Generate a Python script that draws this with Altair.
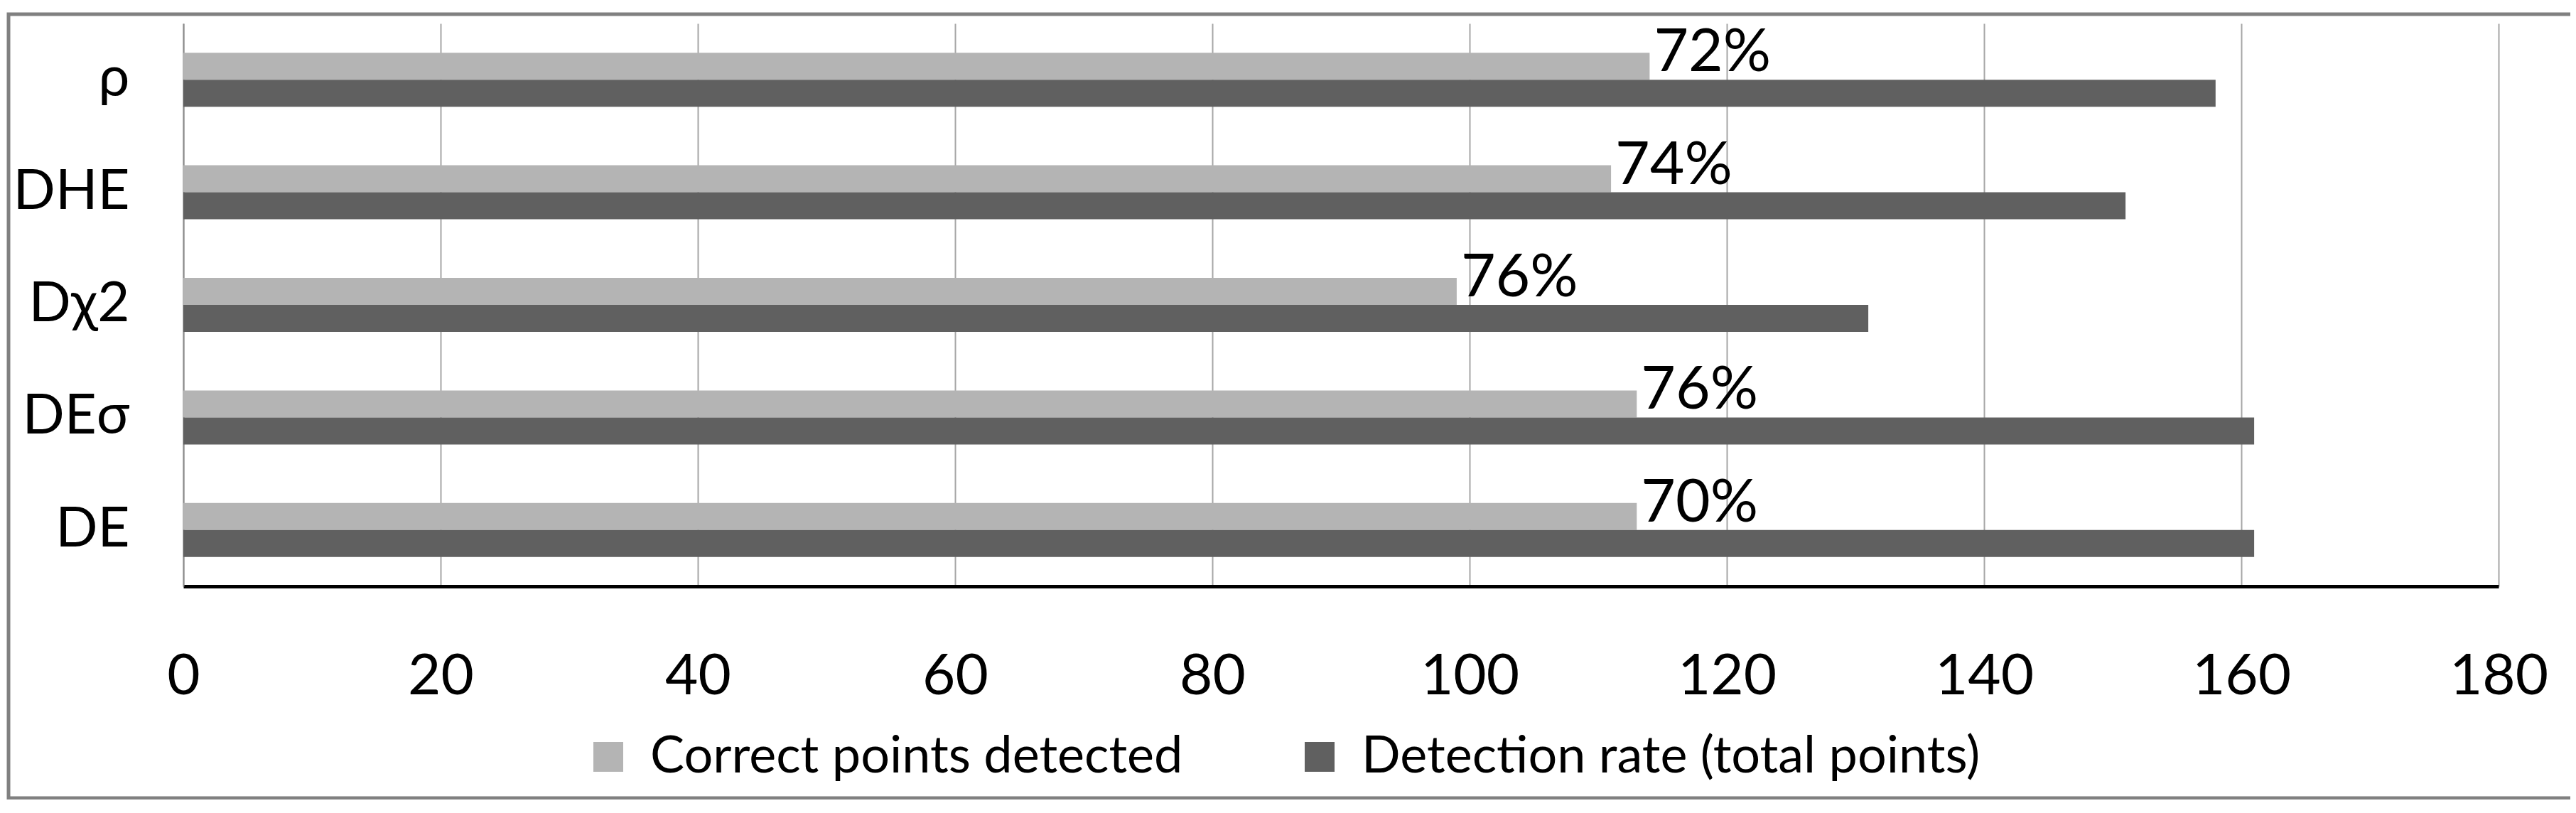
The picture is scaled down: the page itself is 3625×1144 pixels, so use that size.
import altair as alt
import pandas as pd

# ---- data ----
categories = ["ρ", "DHE", "Dχ2", "DEσ", "DE"]
correct_points = [114, 111, 99, 113, 113]
total_points = [158, 151, 131, 161, 161]
rate_labels = ["72%", "74%", "76%", "76%", "70%"]
series_names = ["Correct points detected", "Detection rate (total points)"]
series_colors = ["#b4b4b4", "#606060"]
x_ticks = [0, 20, 40, 60, 80, 100, 120, 140, 160, 180]

rows = []
for c, a, b in zip(categories, correct_points, total_points):
    rows.append({"cat": c, "series": series_names[0], "value": a})
    rows.append({"cat": c, "series": series_names[1], "value": b})
bars_df = pd.DataFrame(rows)
labels_df = pd.DataFrame({
    "cat": categories,
    "series": [series_names[0]] * len(categories),
    "value": correct_points,
    "label": rate_labels,
})

FONT = "Lato"
W, H = 3258, 792

y_enc = alt.Y(
    "cat:N", sort=categories,
    scale=alt.Scale(paddingInner=0.52, paddingOuter=0.26),
    axis=alt.Axis(title=None, labelFont=FONT, labelFontSize=78, labelColor="black",
                  labelPadding=76, ticks=False, tickSize=0, domainColor="#8c8c8c",
                  domainWidth=2, grid=False),
)
yoff_enc = alt.YOffset(
    "series:N", sort=series_names,
    scale=alt.Scale(domain=series_names, paddingInner=0, paddingOuter=0),
)
x_enc = alt.X(
    "value:Q",
    scale=alt.Scale(domain=[0, 180], nice=False, zero=True),
    axis=alt.Axis(title=None, values=x_ticks, grid=True, gridColor="#a6a6a6", gridWidth=2,
                  ticks=False, tickSize=0, domainColor="black", domainWidth=5,
                  labelFont=FONT, labelFontSize=80, labelColor="black", labelPadding=88,
                  labelFlush=False),
)

bars = alt.Chart(bars_df).mark_bar().encode(
    x=x_enc,
    y=y_enc,
    yOffset=yoff_enc,
    color=alt.Color(
        "series:N",
        scale=alt.Scale(domain=series_names, range=series_colors),
        legend=alt.Legend(title=None, orient="none", legendX=562, legendY=996,
                          direction="horizontal", symbolType="square", symbolSize=1764,
                          symbolStrokeWidth=0, labelFont=FONT, labelFontSize=72,
                          labelColor="black", labelOffset=23, columnPadding=156,
                          padding=0, labelLimit=3000),
    ),
)

labels = alt.Chart(labels_df).mark_text(
    align="left", baseline="middle", dx=6, dy=-18, font=FONT, fontSize=84, color="black"
).encode(
    x="value:Q",
    y=alt.Y("cat:N", sort=categories),
    yOffset=alt.YOffset("series:N", sort=series_names),
    text="label:N",
)

frame = alt.Chart(pd.DataFrame({"f": [0]})).mark_rect(
    filled=False, stroke="#808080", strokeWidth=5
).encode(
    x=alt.value(-246), x2=alt.value(3362), y=alt.value(-13), y2=alt.value(1090)
)

chart = alt.layer(bars, labels, frame).properties(
    width=W, height=H,
    autosize=alt.AutoSizeParams(type="none"),
    padding={"left": 250, "top": 25, "right": 101, "bottom": 300},
    background="white",
).configure_view(strokeWidth=0)

chart.save("out.html", embed_options={"renderer": "svg", "actions": False})
